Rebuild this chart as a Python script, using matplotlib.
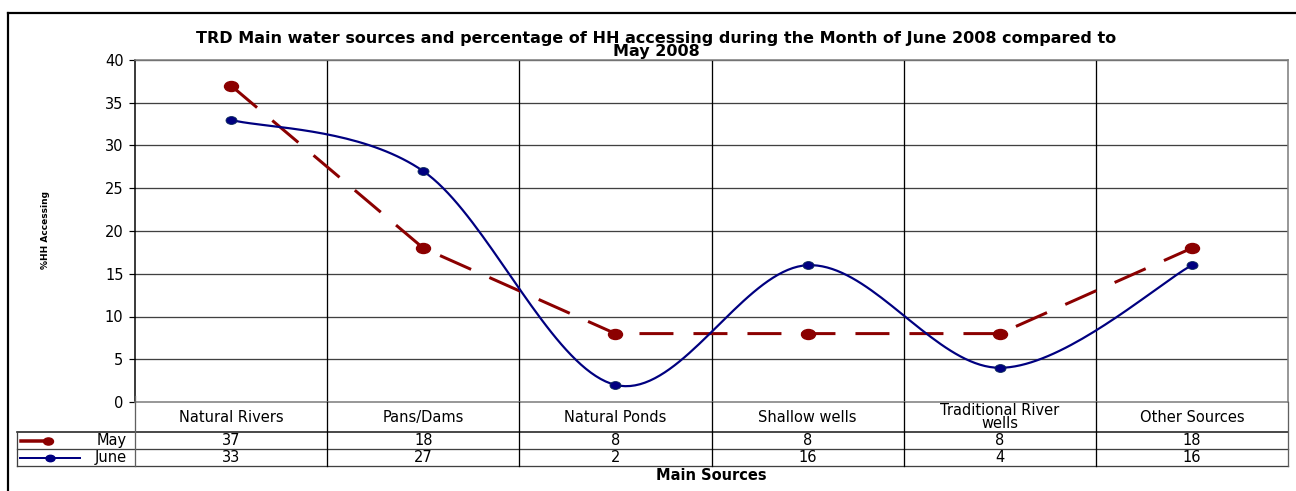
import numpy as np
import matplotlib
matplotlib.use("Agg")
import matplotlib.pyplot as plt
from matplotlib.lines import Line2D
from matplotlib.path import Path
from matplotlib.transforms import Affine2D

plt.rcParams['font.family'] = ['DejaVu Sans']

categories = ["Natural Rivers", "Pans/Dams", "Natural Ponds", "Shallow wells",
              "Traditional River\nwells", "Other Sources"]
may = [37, 18, 8, 8, 8, 18]
june = [33, 27, 2, 16, 4, 16]
yticks = [0, 5, 10, 15, 20, 25, 30, 35, 40]

title = ("TRD Main water sources and percentage of HH accessing during the Month of June 2008 compared to\n"
         "May 2008")

W, H = 1296, 491
fig = plt.figure(figsize=(W / 100, H / 100), dpi=100)
PX = 0.72  # points per pixel at dpi 100

def fx(px):
    return px / W

def fy(py):
    return 1 - py / H

L, R, T, B = 135, 1288, 60, 402
ax = fig.add_axes([fx(L), fy(B), fx(R) - fx(L), fy(T) - fy(B)])

n = len(categories)
xs = np.arange(n)
ax.set_xlim(-0.5, n - 0.5)
ax.set_ylim(0, 40)
ax.set_yticks(yticks)
ax.tick_params(axis='y', direction='out', length=6 * PX, labelsize=10.5, pad=4, width=1.2 * PX)
ax.set_xticks([])
for s in ['top', 'right', 'bottom']:
    ax.spines[s].set_color('#808080')
    ax.spines[s].set_linewidth(1.6 * PX)
ax.spines['left'].set_color('black')
ax.spines['left'].set_linewidth(1.5 * PX)
for yv in yticks[1:]:
    ax.axhline(yv, color='#404040', lw=1.3 * PX, zorder=1)
for xv in np.arange(0.5, n - 0.5, 1):
    ax.axvline(xv, color='black', lw=1.3 * PX, zorder=1)

# June smoothed (Bezier through points, like Excel smoothing)
def smooth(x, y, steps=40):
    P = np.column_stack([x, y]).astype(float)
    pts = []
    for i in range(len(P) - 1):
        p0 = P[i - 1] if i > 0 else P[i]
        p1 = P[i]
        p2 = P[i + 1]
        p3 = P[i + 2] if i + 2 < len(P) else P[i + 1]
        c1 = p1 + (p2 - p0) / 6
        c2 = p2 - (p3 - p1) / 6
        t = np.linspace(0, 1, steps)[:, None]
        seg = ((1 - t) ** 3) * p1 + 3 * ((1 - t) ** 2) * t * c1 + 3 * (1 - t) * t ** 2 * c2 + t ** 3 * p2
        pts.append(seg if i == 0 else seg[1:])
    return np.vstack(pts)

may_c = '#8B0000'
june_c = '#000080'

# elliptical marker (the source chart is stretched horizontally)
ell = Path.unit_circle().transformed(Affine2D().scale(1.4, 1.0))

may_lw = 3 * PX
ax.plot(xs, may, color=may_c, lw=may_lw, dashes=(34 * PX / may_lw, 20 * PX / may_lw),
        dash_capstyle='butt', zorder=3)
ax.plot(xs, may, ls='none', marker=ell, color=may_c, ms=14 * PX, zorder=4)
sm = smooth(xs, june)
ax.plot(sm[:, 0], sm[:, 1], color=june_c, lw=2.2 * PX, zorder=3)
ax.plot(xs, june, ls='none', marker=ell, color=june_c, ms=11 * PX, zorder=4,
        markeredgecolor='#0a2a5a', markeredgewidth=0.6)

# Table
tl = 17
col_edges = [L + (R - L) * i / n for i in range(n + 1)]
r0, r1, r2, r3 = 402, 432, 449, 466
tc = '#404040'
def hline(y, x0, x1, c=tc, lw=1.3 * PX):
    fig.add_artist(Line2D([fx(x0), fx(x1)], [fy(y), fy(y)], color=c, lw=lw))
def vline(x, y0, y1, c=tc, lw=1.3 * PX):
    fig.add_artist(Line2D([fx(x), fx(x)], [fy(y0), fy(y1)], color=c, lw=lw))

hline(r1, tl, R, c='#202020', lw=1.6 * PX)
hline(r2, tl, R)
hline(r3, tl, R)
vline(tl, r1, r3)
for i, xe in enumerate(col_edges):
    vline(xe, r0 if i > 0 else r0 - 6, r3, c='black' if 0 < i < n else '#606060')

fs = 10.5
for i, cat in enumerate(categories):
    cx = (col_edges[i] + col_edges[i + 1]) / 2
    yb = 428.5 if '\n' in cat else 422
    fig.text(fx(cx), fy(yb), cat, ha='center', va='baseline',
             fontsize=fs, linespacing=0.85)
    fig.text(fx(cx), fy((r1 + r2) / 2), str(may[i]), ha='center', va='center', fontsize=fs)
    fig.text(fx(cx), fy((r2 + r3) / 2), str(june[i]), ha='center', va='center', fontsize=fs)

# legend keys in table
ym = (r1 + r2) / 2
fig.add_artist(Line2D([fx(21), fx(50)], [fy(ym), fy(ym)], color=may_c, lw=3.5 * PX))
fig.add_artist(Line2D([fx(48)], [fy(ym)], color=may_c, marker=ell, ms=10 * PX))
fig.text(fx(127), fy(ym), "May", ha='right', va='center', fontsize=fs)
yj = (r2 + r3) / 2
fig.add_artist(Line2D([fx(20), fx(80)], [fy(yj), fy(yj)], color=june_c, lw=2 * PX))
fig.add_artist(Line2D([fx(50)], [fy(yj)], color=june_c, marker=ell, ms=9 * PX))
fig.text(fx(127), fy(yj), "June", ha='right', va='center', fontsize=fs)

fig.text(fx((L + R) / 2), fy(476), "Main Sources", ha='center', va='center',
         fontsize=10.5, fontweight='bold')
fig.text(fx(46), fy(230), "%HH Accessing", rotation=90, ha='center', va='center',
         fontsize=6.5, fontweight='bold')
fig.text(fx(656), fy(45), title, ha='center', va='center', fontsize=11.5,
         fontweight='bold', linespacing=0.8)

# outer frame
fig.add_artist(Line2D([fx(7.5), fx(7.5)], [fy(13), fy(491)], color='black', lw=2.2 * PX))
fig.add_artist(Line2D([fx(7.5), fx(1296)], [fy(13), fy(13)], color='black', lw=2.2 * PX))

fig.savefig("out.png", dpi=100)
